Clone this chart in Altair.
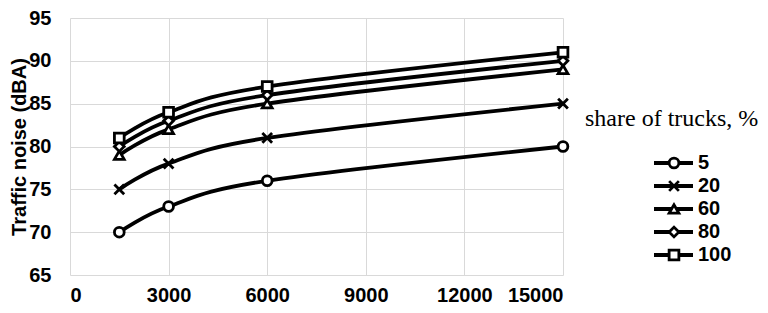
import altair as alt
import pandas as pd

# ---- data ----
x_values = [1500, 3000, 6000, 15000]
series_names = ["5", "20", "60", "80", "100"]
noise_5 = [70, 73, 76, 80]
noise_20 = [75, 78, 81, 85]
noise_60 = [79, 82, 85, 89]
noise_80 = [80, 83, 86, 90]
noise_100 = [81, 84, 87, 91]
x_ticks = [0, 3000, 6000, 9000, 12000, 15000]
y_ticks = [65, 70, 75, 80, 85, 90, 95]
y_title = "Traffic noise (dBA)"
legend_title = "share of trucks, %"

rows = []
for i, (name, vals) in enumerate(zip(series_names, [noise_5, noise_20, noise_60, noise_80, noise_100])):
    for xv, yv in zip(x_values, vals):
        rows.append({"series": name, "x": xv, "y": yv, "k": i})
df = pd.DataFrame(rows)
leg = pd.DataFrame({"series": series_names, "k": list(range(len(series_names)))})

X_PATH = "M-1,-1L1,1M-1,1L1,-1"
shape_scale = alt.Scale(domain=series_names, range=["circle", X_PATH, "triangle-up", "diamond", "square"])

FONT = "Liberation Sans"
MSIZE = 95
MSTROKE = 2.8
LSTROKE = 3.8

x_enc = alt.X("x:Q", scale=alt.Scale(domain=[0, 15000], nice=False),
              axis=alt.Axis(values=x_ticks, format="d", title=None, labelPadding=10))
y_enc = alt.Y("y:Q", scale=alt.Scale(domain=[65, 95], nice=False, zero=False),
              axis=alt.Axis(values=y_ticks, title=y_title, labelPadding=19,
                            titleX=-51, titleBaseline="middle"))

lines = alt.Chart(df).mark_line(interpolate="cardinal", color="black", strokeWidth=LSTROKE).encode(
    x=x_enc, y=y_enc, detail="series:N")

points = alt.Chart(df).mark_point(filled=True, fill="white", stroke="black", strokeWidth=MSTROKE,
                                  size=MSIZE, opacity=1).encode(
    x=x_enc, y=y_enc, shape=alt.Shape("series:N", scale=shape_scale, legend=None))

main = alt.layer(lines, points)

leg_y = alt.Y("series:N", sort=series_names,
              scale=alt.Scale(type="point", domain=series_names, range=[145, 237], padding=0),
              axis=None)

leg_rule = alt.Chart(leg).mark_rule(color="black", strokeWidth=LSTROKE).encode(
    x=alt.value(584), x2=alt.value(623), y=leg_y)
leg_pts = alt.Chart(leg).mark_point(filled=True, fill="white", stroke="black", strokeWidth=MSTROKE,
                                    size=MSIZE, opacity=1).encode(
    x=alt.value(604), y=leg_y, shape=alt.Shape("series:N", scale=shape_scale, legend=None))
leg_text = alt.Chart(leg).mark_text(align="left", baseline="middle", font=FONT, fontWeight="bold",
                                    fontSize=20, color="black").encode(
    x=alt.value(628), y=leg_y, text="series:N")
legend = alt.layer(leg_rule, leg_pts, leg_text)

leg_title = alt.Chart(pd.DataFrame({"t": [legend_title]})).mark_text(
    align="left", baseline="middle", font="Liberation Serif", fontSize=24, color="black").encode(
    x=alt.value(515), y=alt.value(101), text="t:N")

chart = alt.layer(main, legend, leg_title).resolve_scale(
    y="independent"
).properties(
    width=493, height=257,
    autosize=alt.AutoSizeParams(type="none"),
    padding={"left": 62, "top": 10, "right": 197, "bottom": 30},
).configure_view(stroke=None).configure_axis(
    grid=True, gridColor="#d9d9d9", gridWidth=1, domain=False, ticks=False, tickSize=0,
    labelFont=FONT, labelFontWeight="bold", labelFontSize=20, labelColor="black",
    titleFont=FONT, titleFontWeight="bold", titleFontSize=20, titleColor="black",
)

chart.save("out.html", embed_options={"renderer": "svg", "actions": False})
